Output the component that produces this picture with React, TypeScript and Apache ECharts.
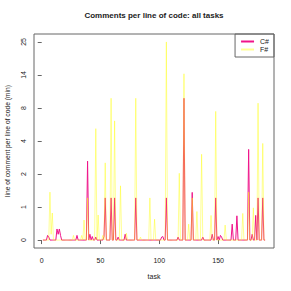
import React, { useEffect, useRef } from "react";
import * as echarts from "echarts";

const TITLE = "Comments per line of code: all tasks";
const X_NAME = "task";
const Y_NAME = "line of comment per line of code (min)";
const X_TICKS = [0, 50, 100, 150];
const Y_TICK_LABELS = [0, 1, 2, 4, 8, 14, 25];
const TICK_STEP = 0.543; // spacing of y ticks on the log(1 + y) scale
const SERIES_NAMES = ["C#", "F#"];

// values for tasks 1..190 (ten per row)
const CSHARP = [
  0, 0, 0, 0, 0.08, 0.05, 0, 0, 0, 0,
  0, 0, 0.2, 0.1, 0.2, 0.08, 0, 0, 0, 0,
  0, 0, 0, 0, 0, 0, 0, 0, 0, 0.08,
  0, 0, 0, 0, 0, 0, 0, 0, 2.66, 0,
  0.1, 0, 0.06, 0, 0, 0.05, 0, 0, 0, 0,
  0, 0, 0.06, 1.0, 0, 0, 0, 0, 1.0, 0,
  0, 1.0, 0, 0, 0.05, 0, 0, 0, 0, 0,
  0.1, 0, 0, 0, 0, 0, 0, 0, 0, 1.0,
  0, 0, 0, 0, 0, 0, 0, 0, 0, 0,
  0, 0, 0, 0, 0, 0, 0, 0, 0, 0,
  0, 0.05, 0.06, 0, 0, 1.0, 0, 0, 0, 0,
  0, 0, 0, 0, 0, 0.05, 0, 0, 0, 0,
  9.3, 0, 0, 0, 0, 0, 0, 1.19, 0, 0,
  0, 0, 0, 0, 0, 0, 0.05, 0, 0, 0,
  0, 0, 0, 0, 0.1, 0, 0, 1.0, 0, 0.06,
  0, 0.08, 0.05, 0, 0, 0, 0, 0, 0, 0,
  0, 0.3, 0, 0, 0, 0.49, 0, 0, 0, 0,
  0, 0, 0, 0, 0, 3.44, 0, 0, 0.1, 0,
  0, 0.5, 0, 1.0, 0, 0, 0, 1.0, 0, 0,
];

const FSHARP = [
  0, 0, 0, 0, 0, 0, 1.2, 0.1, 0.56, 0,
  0, 0, 0, 0, 0, 0, 0, 0, 0, 0,
  0, 0, 0, 0, 0, 0, 0.08, 0, 0, 0,
  0, 0, 0, 0.08, 0, 0.39, 0, 0, 1.0, 0,
  0, 0, 0, 0, 0, 5.25, 0, 0.51, 0, 0,
  0, 0.08, 0, 2.56, 0, 0, 0, 0, 9.3, 0,
  0, 6.1, 0, 0, 0, 0, 1.44, 0, 0, 0,
  0, 0.12, 0, 0, 0, 0, 0, 0, 0, 9.3,
  0, 0, 0, 0.05, 0, 0, 0, 0, 0, 0,
  0, 1.0, 0, 0, 0, 0.41, 0, 0, 0, 0,
  0, 0, 0, 0, 0, 25, 0, 0, 0, 0,
  0, 0, 0, 0, 0, 0, 2.0, 0, 0, 0,
  14.4, 0, 0, 0, 0.3, 0, 0, 1.0, 0, 0,
  0, 0.6, 0, 0, 0, 3.1, 0, 0, 0, 0,
  0, 0, 0, 0.5, 0, 0, 0, 7.3, 0, 0,
  0, 0, 0, 0, 0, 0.28, 0, 0, 0, 0,
  0, 0, 0, 0, 0, 0, 0, 0, 0, 0,
  0.55, 0, 0, 0, 0, 1.2, 0, 0, 0, 0.7,
  0, 0, 0, 8.5, 0, 0, 0, 3.9, 0, 0,
];

const COLORS = ["#f0148a", "rgba(255,255,0,0.42)"];
const FONT = "Liberation Sans, Arial, Helvetica, sans-serif";
const INK = "#222";
const BOX = "#666";

export default function App() {
  const ref = useRef<HTMLDivElement>(null);

  useEffect(() => {
    if (!ref.current) return;
    const chart = echarts.init(ref.current, undefined, { renderer: "svg" });

    const n = CSHARP.length;
    const xExt = 0.04 * (n - 1);
    const toPts = (arr: number[]) => arr.map((v, i) => [i + 1, Math.log1p(v)]);
    const yMaxData = Math.max(...CSHARP.map(Math.log1p), ...FSHARP.map(Math.log1p));
    const yExt = 0.04 * yMaxData;
    const yTickVals = Y_TICK_LABELS.map((_, k) => k * TICK_STEP);

    chart.setOption({
      animation: false,
      backgroundColor: "#fff",
      textStyle: { fontFamily: FONT },
      title: {
        text: TITLE,
        left: 154,
        textAlign: "center",
        top: 11,
        padding: 0,
        textStyle: { fontSize: 8, fontWeight: "bold", color: INK, fontFamily: FONT },
      },
      legend: {
        data: SERIES_NAMES,
        orient: "vertical",
        right: 17,
        top: 34,
        padding: [4, 5, 4, 6],
        itemGap: 1,
        itemWidth: 13,
        itemHeight: 2,
        icon: "rect",
        borderColor: BOX,
        borderWidth: 1,
        textStyle: { fontSize: 7, color: INK, fontFamily: FONT, padding: [0, 0, 0, 1] },
      },
      grid: {
        left: 34,
        top: 34,
        width: 240,
        height: 214,
        show: true,
        borderColor: BOX,
        borderWidth: 1,
        backgroundColor: "transparent",
        containLabel: false,
        outerBoundsMode: "none",
      },
      xAxis: {
        type: "value",
        min: 1 - xExt,
        max: n + xExt,
        name: X_NAME,
        nameLocation: "middle",
        nameGap: 25,
        nameTextStyle: { fontSize: 7, color: INK, fontFamily: FONT },
        axisLine: { show: false },
        axisTick: { show: true, length: 4, lineStyle: { color: BOX }, customValues: X_TICKS },
        axisLabel: { fontSize: 7, color: INK, margin: 9, customValues: X_TICKS, fontFamily: FONT },
        splitLine: { show: false },
      },
      yAxis: {
        type: "value",
        min: -yExt,
        max: yMaxData + yExt,
        name: Y_NAME,
        nameLocation: "middle",
        nameRotate: 90,
        nameGap: 23,
        nameTextStyle: { fontSize: 6.7, color: INK, fontFamily: FONT },
        axisLine: { show: false },
        axisTick: { show: true, length: 4, lineStyle: { color: BOX }, customValues: yTickVals },
        axisLabel: {
          fontSize: 7,
          color: INK,
          rotate: 90,
          margin: 7,
          fontFamily: FONT,
          customValues: yTickVals,
          formatter: (v: number) => String(Y_TICK_LABELS[Math.round(v / TICK_STEP)]),
        },
        splitLine: { show: false },
      },
      series: [
        {
          name: SERIES_NAMES[0],
          type: "line",
          data: toPts(CSHARP),
          symbol: "none",
          color: COLORS[0],
          lineStyle: { width: 1, color: COLORS[0] },
          z: 2,
        },
        {
          name: SERIES_NAMES[1],
          type: "line",
          data: toPts(FSHARP),
          symbol: "none",
          color: COLORS[1],
          lineStyle: { width: 1, color: COLORS[1] },
          z: 3,
        },
      ],
    });

    return () => chart.dispose();
  }, []);

  return <div ref={ref} style={{ width: 291, height: 291, position: "absolute", left: 0, top: 0 }} />;
}
